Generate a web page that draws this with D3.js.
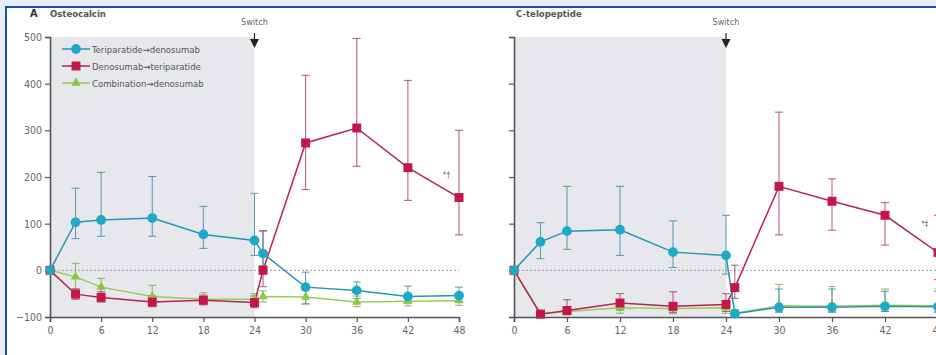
<!DOCTYPE html>
<html><head><meta charset="utf-8">
<script src="https://cdn.jsdelivr.net/npm/d3@7"></script>
<style>body{margin:0;background:#fff}svg{display:block}text{font-family:"Liberation Sans Narrow","DejaVu Sans Condensed","Liberation Sans",sans-serif}</style>
</head><body><svg id="c" width="936" height="355"></svg>
<script>
const months = [0,3,6,12,18,24,25,30,36,42,48];
const xTicks = [0,6,12,18,24,30,36,42,48];
const yTicks = [-100,0,100,200,300,400,500];
const seriesNames = ["Teriparatide→denosumab","Denosumab→teriparatide","Combination→denosumab"];

// Osteocalcin (% change)
const oc_teri = [0,103,108,112,77,64,36,-36,-43,-56,-54];
const oc_teri_lo = [0,68,73,73,47,32,10,-72,-60,-70,-68];
const oc_teri_hi = [0,176,210,201,137,165,84,-4,-25,-34,-36];
const oc_deno = [0,-51,-58,-68,-64,-69,0,273,305,220,156];
const oc_deno_lo = [0,-62,-68,-78,-74,-80,-35,173,223,150,76];
const oc_deno_hi = [0,-40,-46,-55,-53,-55,85,418,497,407,300];
const oc_comb = [0,-14,-36,-56,-62,-62,-56,-57,-68,-66,-65];
const oc_comb_lo = [0,-40,-52,-68,-72,-72,-68,-72,-78,-76,-75];
const oc_comb_hi = [0,15,-17,-32,-48,-50,-44,-42,-55,-56,-55];

// C-telopeptide (% change)
const ct_teri = [0,61,84,87,39,32,-93,-79,-79,-77,-78];
const ct_teri_lo = [0,25,45,32,6,-8,-98,-90,-90,-88,-90];
const ct_teri_hi = [0,102,180,180,106,118,-85,-40,-40,-45,-45];
const ct_deno = [0,-94,-86,-70,-77,-73,-37,180,148,118,38];
const ct_deno_lo = [0,-98,-95,-85,-90,-88,-60,76,86,54,-20];
const ct_deno_hi = [0,-88,-63,-50,-46,-50,11,339,196,145,118];
const ct_comb = [0,-93,-88,-80,-82,-80,-92,-76,-77,-75,-76];
const ct_comb_lo = [0,-97,-95,-92,-93,-92,-97,-88,-88,-88,-88];
const ct_comb_hi = [0,-85,-78,-70,-70,-70,-85,-30,-35,-40,-40];

const colors = ["#1fa9c9","#c3174b","#8dc641"];
const lineColors = ["#2595b3","#b0284f","#9ccc55"];
const errColors = ["#3d8ca6","#9b3d57","#7fae4a"];

const svg = d3.select("#c");
// frame
svg.append("rect").attr("width",936).attr("height",355).attr("fill","#e7eefa");
svg.append("rect").attr("x",7).attr("y",8).attr("width",929).attr("height",347).attr("fill","#fff");
svg.append("rect").attr("x",5).attr("y",6).attr("width",931).attr("height",2).attr("fill","#1e4f9e");
svg.append("rect").attr("x",5).attr("y",6).attr("width",2).attr("height",349).attr("fill","#1e4f9e");

function panel(opt){
  const x = d3.scaleLinear().domain([0,48]).range(opt.xr);
  const y = d3.scaleLinear().domain([-100,500]).range([317,37]);
  const g = svg.append("g");
  // shading
  g.append("rect").attr("x",x(0)+1).attr("y",y(500)).attr("width",x(24)-x(0)-1).attr("height",y(-100)-y(500)).attr("fill","#e6e8ec");
  // zero line
  g.append("line").attr("x1",x(0)).attr("x2",opt.zeroEnd).attr("y1",y(0)).attr("y2",y(0))
    .attr("stroke","#888").attr("stroke-width",0.8).attr("stroke-dasharray","2,2");
  // axes
  const ya = d3.axisLeft(y).tickValues(yTicks).tickSize(5).tickFormat(opt.labels ? d3.format("d") : "");
  const ga = g.append("g").attr("transform",`translate(${x(0)},0)`).call(ya);
  const xa = d3.axisBottom(x).tickValues(xTicks).tickSize(5).tickFormat(d3.format("d"));
  const gx = g.append("g").attr("transform",`translate(0,${y(-100)})`).call(xa);
  [ga,gx].forEach(a=>{
    a.select(".domain").attr("stroke","#555").attr("stroke-width",1.6);
    a.selectAll(".tick line").attr("stroke","#555").attr("stroke-width",1.2);
    a.selectAll(".tick text").attr("fill","#666").attr("font-size",10.5);
  });
  gx.selectAll(".tick text").attr("dy","0.85em");
  // title
  if (opt.letter) g.append("text").attr("x",30).attr("y",17).attr("font-size",11).attr("font-weight","bold").attr("fill","#333").text(opt.letter);
  g.append("text").attr("x",opt.titleX).attr("y",17).attr("font-size",9.5).attr("font-weight","bold").attr("fill","#555").text(opt.title);
  // switch
  const sx = x(24);
  g.append("text").attr("x",sx).attr("y",25).attr("text-anchor","middle").attr("font-size",9).attr("fill","#666").text("Switch");
  g.append("line").attr("x1",sx).attr("x2",sx).attr("y1",33).attr("y2",40).attr("stroke","#222").attr("stroke-width",1.2);
  g.append("path").attr("d",`M${sx-4.5},39 L${sx+4.5},39 L${sx},48 Z`).attr("fill","#222");

  const clip = "clip"+opt.id;
  svg.append("clipPath").attr("id",clip).append("rect").attr("x",0).attr("y",0).attr("width",936).attr("height",355);
  const dg = g.append("g").attr("clip-path",`url(#${clip})`);
  // draw order: green, red, blue
  [2,1,0].forEach(si=>{
    const vals = opt.data[si], lo = opt.lo[si], hi = opt.hi[si];
    const pts = months.map((m,i)=>({m,v:vals[i],lo:lo[i],hi:hi[i]}));
    pts.filter(p=>p.m>0).forEach(p=>{
      const eg = dg.append("g").attr("stroke",errColors[si]).attr("stroke-width",1).attr("opacity",0.85);
      eg.append("line").attr("x1",x(p.m)).attr("x2",x(p.m)).attr("y1",y(p.lo)).attr("y2",y(p.hi));
      eg.append("line").attr("x1",x(p.m)-4).attr("x2",x(p.m)+4).attr("y1",y(p.lo)).attr("y2",y(p.lo));
      eg.append("line").attr("x1",x(p.m)-4).attr("x2",x(p.m)+4).attr("y1",y(p.hi)).attr("y2",y(p.hi));
    });
    dg.append("path").datum(pts).attr("fill","none").attr("stroke",lineColors[si]).attr("stroke-width",1.5)
      .attr("d",d3.line().x(p=>x(p.m)).y(p=>y(p.v)));
  });
  [2,1,0].forEach(si=>{
    const vals = opt.data[si];
    const pts = months.map((m,i)=>({m,v:vals[i]}));
    const sym = [d3.symbolCircle,d3.symbolSquare,d3.symbolTriangle][si];
    const size = [75,80,38][si];
    dg.selectAll(null).data(pts).enter().append("path")
      .attr("transform",p=>`translate(${x(p.m)},${y(p.v)})`)
      .attr("d",d3.symbol().type(sym).size(size)).attr("fill",colors[si]);
  });
  g.append("text").attr("x",x(opt.annot[0])).attr("y",y(opt.annot[1])).attr("font-size",8).attr("fill","#666").text(opt.annot[2]);
  return {x,y,g};
}

panel({id:1,xr:[50,459],labels:true,zeroEnd:459,letter:"A",title:"Osteocalcin",titleX:50,
  data:[oc_teri,oc_deno,oc_comb],lo:[oc_teri_lo,oc_deno_lo,oc_comb_lo],hi:[oc_teri_hi,oc_deno_hi,oc_comb_hi],
  annot:[46.1,197,"*†"]});
panel({id:2,xr:[514,938],labels:false,zeroEnd:936,letter:null,title:"C-telopeptide",titleX:516,
  data:[ct_teri,ct_deno,ct_comb],lo:[ct_teri_lo,ct_deno_lo,ct_comb_lo],hi:[ct_teri_hi,ct_deno_hi,ct_comb_hi],
  annot:[46.1,92,"*‡"]});

// legend
const lg = svg.append("g");
seriesNames.forEach((n,i)=>{
  const yy = 49 + i*17;
  lg.append("line").attr("x1",62).attr("x2",90).attr("y1",yy).attr("y2",yy).attr("stroke",lineColors[i]).attr("stroke-width",1.5);
  lg.append("path").attr("transform",`translate(76,${yy})`)
    .attr("d",d3.symbol().type([d3.symbolCircle,d3.symbolSquare,d3.symbolTriangle][i]).size([75,80,38][i])).attr("fill",colors[i]);
  lg.append("text").attr("x",92).attr("y",yy+3.5).attr("font-size",9.5).attr("fill","#555").text(n);
});
</script></body></html>
